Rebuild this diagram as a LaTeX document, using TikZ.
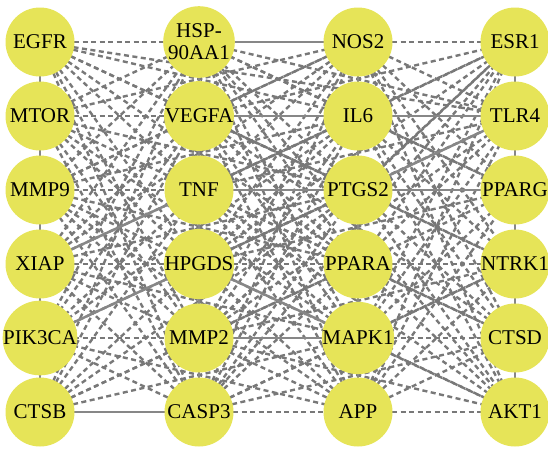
\documentclass[tikz,border=0pt]{standalone}
\usepackage{fontspec}
\setmainfont{Liberation Serif}
\pgfdeclarelayer{edges}
\pgfsetlayers{edges,main}
\definecolor{gene}{RGB}{230,228,88}
\definecolor{linkgray}{RGB}{120,120,120}
\definecolor{solidgray}{RGB}{135,135,135}
\tikzset{
  gene/.style={circle, fill=gene, minimum size=69pt, inner sep=0pt,
    font=\fontsize{21}{22}\selectfont, align=center, text=black},
  weak/.style={draw=linkgray, line width=2.4pt, dash pattern=on 5pt off 3.5pt},
  strong/.style={draw=solidgray, line width=2.5pt}
}
\begin{document}
\begin{tikzpicture}[x=1pt,y=-1pt]
\useasboundingbox (0,0) rectangle (548,448);
% column x positions and row y positions
\def\ca{40}\def\cb{199}\def\cc{358}\def\cd{515}
\def\ra{42}\def\rb{116}\def\rc{190}\def\rd{264}\def\re{338}\def\rf{412}
% first column
\node[gene] (EGFR)   at (\ca,\ra) {EGFR};
\node[gene] (MTOR)   at (\ca,\rb) {MTOR};
\node[gene] (MMP9)   at (\ca,\rc) {MMP9};
\node[gene] (XIAP)   at (\ca,\rd) {XIAP};
\node[gene] (PIK3CA) at (\ca,\re) {PIK3CA};
\node[gene] (CTSB)   at (\ca,\rf) {CTSB};
% second column
\node[gene] (HSP90AA1) at (\cb,\ra) {HSP-\\90AA1};
\node[gene] (VEGFA)    at (\cb,\rb) {VEGFA};
\node[gene] (TNF)      at (\cb,\rc) {TNF};
\node[gene] (HPGDS)    at (\cb,\rd) {HPGDS};
\node[gene] (MMP2)     at (\cb,\re) {MMP2};
\node[gene] (CASP3)    at (\cb,\rf) {CASP3};
% third column
\node[gene] (NOS2)  at (\cc,\ra) {NOS2};
\node[gene] (IL6)   at (\cc,\rb) {IL6};
\node[gene] (PTGS2) at (\cc,\rc) {PTGS2};
\node[gene] (PPARA) at (\cc,\rd) {PPARA};
\node[gene] (MAPK1) at (\cc,\re) {MAPK1};
\node[gene] (APP)   at (\cc,\rf) {APP};
% fourth column
\node[gene] (ESR1)  at (\cd,\ra) {ESR1};
\node[gene] (TLR4)  at (\cd,\rb) {TLR4};
\node[gene] (PPARG) at (\cd,\rc) {PPARG};
\node[gene] (NTRK1) at (\cd,\rd) {NTRK1};
\node[gene] (CTSD)  at (\cd,\re) {CTSD};
\node[gene] (AKT1)  at (\cd,\rf) {AKT1};

\begin{pgfonlayer}{edges}
% dashed interactions
\foreach \u/\v in {
  EGFR/HSP90AA1, EGFR/VEGFA, EGFR/TNF, EGFR/HPGDS, EGFR/MMP2, EGFR/CASP3, EGFR/IL6, EGFR/PTGS2, EGFR/TLR4, EGFR/PPARA,
  MTOR/VEGFA, MTOR/HSP90AA1, MTOR/TNF, MTOR/HPGDS, MTOR/MMP2, MTOR/CASP3, MTOR/PTGS2, MTOR/NOS2, MTOR/MAPK1,
  MMP9/TNF, MMP9/HSP90AA1, MMP9/VEGFA, MMP9/HPGDS, MMP9/MMP2, MMP9/CASP3, MMP9/IL6, MMP9/PPARA, MMP9/NOS2, MMP9/APP,
  XIAP/HSP90AA1, XIAP/VEGFA, XIAP/HPGDS, XIAP/MMP2, XIAP/CASP3, XIAP/MAPK1, XIAP/IL6, XIAP/NOS2, XIAP/PTGS2,
  PIK3CA/MMP2, PIK3CA/HSP90AA1, PIK3CA/VEGFA, PIK3CA/TNF, PIK3CA/CASP3, PIK3CA/PTGS2, PIK3CA/APP, PIK3CA/IL6,
  CTSB/VEGFA, CTSB/TNF, CTSB/HPGDS, CTSB/MMP2, CTSB/HSP90AA1, CTSB/MAPK1, CTSB/PPARA, CTSB/PTGS2,
  HSP90AA1/IL6, HSP90AA1/PTGS2, HSP90AA1/PPARA, HSP90AA1/MAPK1, HSP90AA1/APP, HSP90AA1/TLR4, HSP90AA1/PPARG, HSP90AA1/AKT1,
  VEGFA/NOS2, VEGFA/PTGS2, VEGFA/PPARA, VEGFA/MAPK1, VEGFA/APP, VEGFA/ESR1, VEGFA/NTRK1, VEGFA/CTSD,
  TNF/NOS2, TNF/IL6, TNF/PPARA, TNF/MAPK1, TNF/APP, TNF/ESR1, TNF/TLR4, TNF/AKT1, TNF/CTSD,
  HPGDS/NOS2, HPGDS/IL6, HPGDS/PTGS2, HPGDS/PPARA, HPGDS/APP, HPGDS/ESR1, HPGDS/PPARG, HPGDS/AKT1, HPGDS/TLR4,
  MMP2/NOS2, MMP2/IL6, MMP2/PTGS2, MMP2/PPARA, MMP2/APP, MMP2/TLR4, MMP2/NTRK1, MMP2/AKT1, MMP2/ESR1,
  CASP3/APP, CASP3/IL6, CASP3/PTGS2, CASP3/PPARA, CASP3/MAPK1, CASP3/ESR1, CASP3/CTSD, CASP3/NTRK1, CASP3/NOS2,
  NOS2/ESR1, NOS2/TLR4, NOS2/PPARG, NOS2/NTRK1, NOS2/CTSD, NOS2/AKT1,
  IL6/ESR1, IL6/PPARG, IL6/NTRK1, IL6/CTSD, IL6/AKT1,
  PTGS2/ESR1, PTGS2/NTRK1, PTGS2/CTSD, PTGS2/AKT1,
  PPARA/ESR1, PPARA/TLR4, PPARA/PPARG, PPARA/NTRK1, PPARA/CTSD, PPARA/AKT1,
  MAPK1/ESR1, MAPK1/TLR4, MAPK1/PPARG, MAPK1/NTRK1, MAPK1/CTSD, MAPK1/AKT1,
  APP/AKT1, APP/ESR1, APP/TLR4, APP/PPARG, APP/NTRK1, APP/CTSD}
  \draw[weak] (\u.center) -- (\v.center);
% solid interactions
\foreach \u/\v in {
  EGFR/MTOR, MTOR/MMP9, MMP9/XIAP, XIAP/PIK3CA, PIK3CA/CTSB,
  HSP90AA1/VEGFA, VEGFA/TNF, TNF/HPGDS, HPGDS/MMP2, MMP2/CASP3,
  NOS2/IL6, IL6/PTGS2, PTGS2/PPARA, PPARA/MAPK1, MAPK1/APP,
  ESR1/TLR4, TLR4/PPARG, PPARG/NTRK1, NTRK1/CTSD, CTSD/AKT1,
  HSP90AA1/NOS2, VEGFA/IL6, IL6/TLR4, TNF/PTGS2, PTGS2/PPARG,
  MMP2/MAPK1, CTSB/CASP3, XIAP/TNF, PIK3CA/HPGDS, HPGDS/MAPK1, TLR4/PTGS2}
  \draw[strong] (\u.center) -- (\v.center);
\end{pgfonlayer}
\end{tikzpicture}
\end{document}
